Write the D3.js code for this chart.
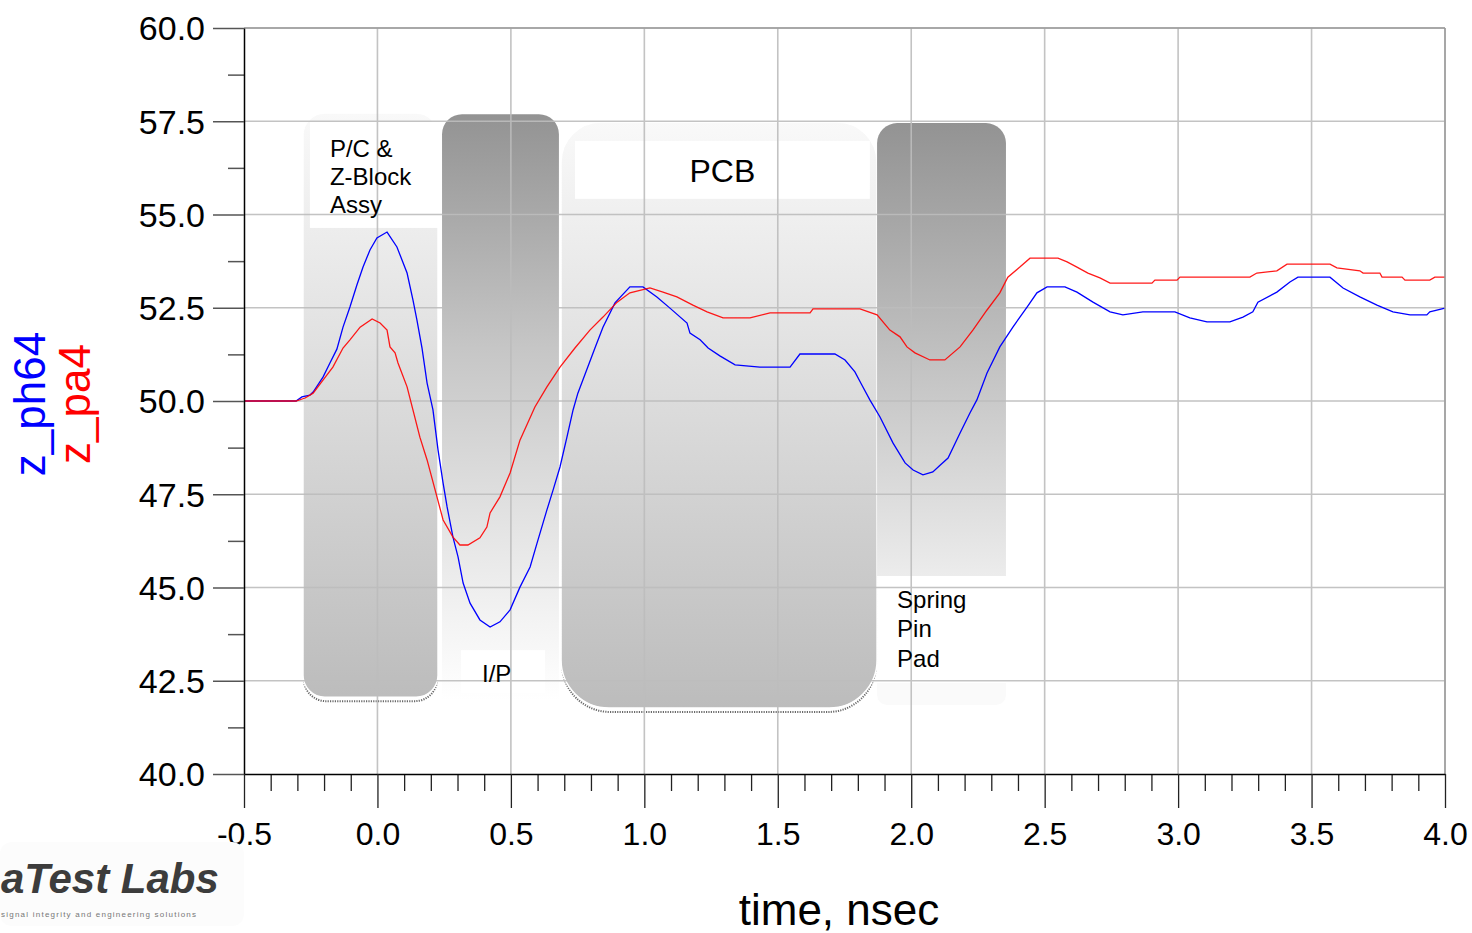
<!DOCTYPE html>
<html>
<head>
<meta charset="utf-8">
<script src="https://cdn.jsdelivr.net/npm/d3@7"></script>
<style>
  body { margin: 0; background: #fff; }
  svg { display: block; font-family: "Liberation Sans", Arial, sans-serif; }
</style>
</head>
<body>
<svg id="chart" width="1472" height="933"></svg>
<script>
'use strict';

// impedance traces, [time ns, ohms]
const zPh64 = [
  [-0.5, 50.00], [-0.305, 50.00], [-0.283, 50.11], [-0.253, 50.16], [-0.241, 50.24],
  [-0.204, 50.64], [-0.178, 51.02], [-0.152, 51.39], [-0.129, 51.98], [-0.103, 52.52],
  [-0.077, 53.11], [-0.054, 53.59], [-0.028, 54.05], [-0.002, 54.37], [0.036, 54.53],
  [0.073, 54.13], [0.111, 53.43], [0.133, 52.71], [0.148, 52.17], [0.167, 51.42],
  [0.186, 50.48], [0.208, 49.76], [0.227, 48.69], [0.246, 47.80], [0.261, 47.16],
  [0.283, 46.35], [0.302, 45.82], [0.321, 45.12], [0.347, 44.58], [0.384, 44.13],
  [0.422, 43.94], [0.459, 44.08], [0.497, 44.40], [0.534, 45.01], [0.572, 45.55],
  [0.598, 46.19], [0.635, 47.08], [0.658, 47.61], [0.684, 48.23], [0.710, 49.03],
  [0.733, 49.76], [0.751, 50.21], [0.815, 51.42], [0.845, 51.98], [0.890, 52.63],
  [0.946, 53.06], [0.995, 53.06], [1.047, 52.79], [1.096, 52.49], [1.160, 52.09],
  [1.171, 51.82], [1.209, 51.64], [1.239, 51.42], [1.283, 51.21], [1.340, 50.97],
  [1.433, 50.91], [1.546, 50.91], [1.583, 51.26], [1.714, 51.26], [1.752, 51.10],
  [1.789, 50.78], [1.815, 50.43], [1.845, 50.03], [1.883, 49.57], [1.932, 48.87],
  [1.977, 48.34], [2.007, 48.15], [2.044, 48.02], [2.081, 48.10], [2.108, 48.28],
  [2.138, 48.47], [2.183, 49.14], [2.220, 49.68], [2.246, 50.03], [2.284, 50.75],
  [2.332, 51.45], [2.381, 51.98], [2.434, 52.52], [2.471, 52.90], [2.509, 53.06],
  [2.576, 53.06], [2.621, 52.92], [2.681, 52.65], [2.745, 52.39], [2.793, 52.31],
  [2.868, 52.39], [2.988, 52.39], [3.044, 52.23], [3.108, 52.12], [3.194, 52.12],
  [3.243, 52.25], [3.280, 52.39], [3.299, 52.65], [3.370, 52.92], [3.419, 53.19],
  [3.449, 53.32], [3.569, 53.32], [3.618, 53.03], [3.681, 52.79], [3.745, 52.57],
  [3.805, 52.39], [3.869, 52.31], [3.932, 52.31], [3.943, 52.39], [4.0, 52.49]
];

const zPa4 = [
  [-0.5, 50.00], [-0.305, 50.00], [-0.271, 50.08], [-0.241, 50.21], [-0.204, 50.56],
  [-0.167, 50.91], [-0.129, 51.42], [-0.103, 51.64], [-0.065, 51.98], [-0.020, 52.20],
  [0.010, 52.09], [0.036, 51.90], [0.047, 51.45], [0.066, 51.29], [0.077, 51.02],
  [0.111, 50.38], [0.133, 49.76], [0.159, 49.03], [0.186, 48.42], [0.223, 47.43],
  [0.246, 46.81], [0.283, 46.35], [0.309, 46.14], [0.339, 46.14], [0.384, 46.33],
  [0.410, 46.62], [0.422, 47.00], [0.459, 47.43], [0.497, 48.07], [0.534, 48.95],
  [0.590, 49.84], [0.635, 50.38], [0.684, 50.91], [0.740, 51.42], [0.796, 51.90],
  [0.845, 52.25], [0.898, 52.65], [0.946, 52.90], [1.021, 53.03], [1.070, 52.92],
  [1.122, 52.79], [1.182, 52.57], [1.235, 52.39], [1.295, 52.23], [1.396, 52.23],
  [1.471, 52.36], [1.621, 52.36], [1.632, 52.47], [1.808, 52.47], [1.872, 52.31],
  [1.920, 51.90], [1.958, 51.72], [1.984, 51.45], [2.014, 51.29], [2.070, 51.10],
  [2.126, 51.10], [2.183, 51.45], [2.231, 51.90], [2.284, 52.44], [2.332, 52.90],
  [2.362, 53.32], [2.407, 53.59], [2.445, 53.83], [2.550, 53.83], [2.584, 53.73],
  [2.621, 53.59], [2.662, 53.43], [2.707, 53.30], [2.745, 53.16], [2.902, 53.16],
  [2.913, 53.24], [2.996, 53.24], [3.007, 53.32], [3.269, 53.32], [3.295, 53.43],
  [3.370, 53.49], [3.408, 53.67], [3.569, 53.67], [3.595, 53.57], [3.681, 53.49],
  [3.693, 53.43], [3.756, 53.43], [3.764, 53.32], [3.839, 53.32], [3.850, 53.24],
  [3.943, 53.24], [3.962, 53.32], [4.0, 53.32]
];

const xTicks = [-0.5, 0.0, 0.5, 1.0, 1.5, 2.0, 2.5, 3.0, 3.5, 4.0];
const yTicks = [40.0, 42.5, 45.0, 47.5, 50.0, 52.5, 55.0, 57.5, 60.0];

// structure regions: time span (ns) and ohm span
const zones = [
  { id: 'pc', t0: -0.279, t1: 0.227, lo: 42.06, hi: 57.72 },
  { id: 'ip', t0: 0.242, t1: 0.680, lo: 41.98, hi: 57.69 },
  { id: 'pcb', t0: 0.688, t1: 1.872, lo: 41.77, hi: 57.48 },
  { id: 'spring', t0: 1.872, t1: 2.355, lo: 45.31, hi: 57.45 }
];
// white label boxes behind region names
const labelBoxes = [
  { id: 'pc', t0: -0.253, t1: 0.227, lo: 54.64, hi: 57.48 },
  { id: 'ip', t0: 0.313, t1: 0.628, lo: 42.17, hi: 43.32 },
  { id: 'pcb', t0: 0.740, t1: 1.845, lo: 55.42, hi: 56.97 }
];
const zoneLabels = {
  pc: ['P/C &', 'Z-Block', 'Assy'],
  ip: ['I/P'],
  pcb: ['PCB'],
  spring: ['Spring', 'Pin', 'Pad']
};

const svg = d3.select('#chart');
const x = d3.scaleLinear().domain([-0.5, 4.0]).range([244, 1445]);
const y = d3.scaleLinear().domain([40, 60]).range([774, 28]);
// plain hyphen for negatives, like the original plot
const fmt = function(v) { return d3.format('.1f')(v).replace('\u2212', '-'); };

// rounded rect with separate top / bottom radius
function boxPath(x0, y0, x1, y1, rt, rb) {
  return 'M' + x0 + ',' + (y0 + rt) +
    'A' + rt + ',' + rt + ' 0 0 1 ' + (x0 + rt) + ',' + y0 +
    'L' + (x1 - rt) + ',' + y0 +
    'A' + rt + ',' + rt + ' 0 0 1 ' + x1 + ',' + (y0 + rt) +
    'L' + x1 + ',' + (y1 - rb) +
    'A' + rb + ',' + rb + ' 0 0 1 ' + (x1 - rb) + ',' + y1 +
    'L' + (x0 + rb) + ',' + y1 +
    'A' + rb + ',' + rb + ' 0 0 1 ' + x0 + ',' + (y1 - rb) + 'Z';
}

const defs = svg.append('defs');
function grad(id, stops) {
  const g = defs.append('linearGradient').attr('id', id)
    .attr('x1', 0).attr('y1', 0).attr('x2', 0).attr('y2', 1);
  stops.forEach(function(s) {
    g.append('stop').attr('offset', s[0]).attr('stop-color', s[1]);
  });
}
grad('g-light', [[0, '#f9f9f9'], [1, '#bcbcbc']]);
grad('g-ip', [[0, '#939393'], [0.4, '#c6c6c6'], [0.85, '#f2f2f2'], [1, '#ffffff']]);
grad('g-spring', [[0, '#939393'], [1, '#ececec']]);

const zoneStyle = {
  pc: { fill: 'url(#g-light)', rt: 22, rb: 22, shadow: true },
  ip: { fill: 'url(#g-ip)', rt: 20, rb: 0, shadow: false },
  pcb: { fill: 'url(#g-light)', rt: 40, rb: 48, shadow: true },
  spring: { fill: 'url(#g-spring)', rt: 20, rb: 0, shadow: false }
};

const gZones = svg.append('g').attr('id', 'zones');

// faint footer under the spring pin region
gZones.append('path')
  .attr('d', boxPath(x(1.872), y(42.44), x(2.355), y(41.85), 0, 10))
  .attr('fill', '#fafafa');

zones.forEach(function(z) {
  const st = zoneStyle[z.id];
  const x0 = x(z.t0), x1 = x(z.t1), y0 = y(z.hi), y1 = y(z.lo);
  if (st.shadow) {
    gZones.append('path')
      .attr('d', boxPath(x0 + 1, y0 + 4, x1 - 1, y1 + 4, st.rt, st.rb))
      .attr('fill', 'none')
      .attr('stroke', '#6a6a6a')
      .attr('stroke-width', 2)
      .attr('stroke-dasharray', '1.2 1.2');
  }
  gZones.append('path')
    .attr('d', boxPath(x0, y0, x1, y1, st.rt, st.rb))
    .attr('fill', st.fill)
    .attr('stroke', st.shadow ? '#ffffff' : 'none')
    .attr('stroke-width', 1.5);
});

gZones.selectAll('rect.label-box')
  .data(labelBoxes)
  .enter()
  .append('rect')
  .attr('class', 'label-box')
  .attr('x', function(d) { return x(d.t0); })
  .attr('y', function(d) { return y(d.hi); })
  .attr('width', function(d) { return x(d.t1) - x(d.t0); })
  .attr('height', function(d) { return y(d.lo) - y(d.hi); })
  .attr('fill', '#ffffff');

// grid
const gGrid = svg.append('g').attr('id', 'grid')
  .attr('stroke', '#bdbdbd').attr('stroke-width', 1.6).attr('opacity', 0.9);
gGrid.selectAll('line.vx')
  .data(xTicks.slice(1))
  .enter()
  .append('line')
  .attr('x1', function(d) { return x(d); })
  .attr('x2', function(d) { return x(d); })
  .attr('y1', y(60)).attr('y2', y(40));
gGrid.selectAll('line.hy')
  .data(yTicks.slice(1))
  .enter()
  .append('line')
  .attr('x1', x(-0.5)).attr('x2', x(4.0))
  .attr('y1', function(d) { return y(d); })
  .attr('y2', function(d) { return y(d); });

// zone labels
const gText = svg.append('g').attr('font-size', 24).attr('fill', '#000');
const pcBox = labelBoxes[0];
zoneLabels.pc.forEach(function(s, i) {
  gText.append('text').attr('x', x(pcBox.t0) + 20).attr('y', y(pcBox.hi) + 35 + i * 28).text(s);
});
const ipBox = labelBoxes[1];
gText.append('text').attr('x', x(ipBox.t0) + 21).attr('y', y(ipBox.hi) + 32).text(zoneLabels.ip[0]);
const pcbBox = labelBoxes[2];
gText.append('text')
  .attr('x', (x(pcbBox.t0) + x(pcbBox.t1)) / 2)
  .attr('y', y(pcbBox.hi) + 41)
  .attr('text-anchor', 'middle')
  .attr('font-size', 32)
  .text(zoneLabels.pcb[0]);
const spring = zones[3];
zoneLabels.spring.forEach(function(s, i) {
  gText.append('text').attr('x', x(spring.t0) + 20).attr('y', y(spring.lo) + 32 + i * 29.5).text(s);
});

// traces
const line = d3.line()
  .x(function(d) { return x(d[0]); })
  .y(function(d) { return y(d[1]); });
svg.append('path').datum(zPh64)
  .attr('d', line).attr('fill', 'none')
  .attr('stroke', '#0000ff').attr('stroke-width', 1.3);
svg.append('path').datum(zPa4)
  .attr('d', line).attr('fill', 'none')
  .attr('stroke', '#ff0000').attr('stroke-width', 1.3).attr('opacity', 0.9);

// frame top/right
svg.append('line').attr('x1', x(-0.5)).attr('x2', x(4.0)).attr('y1', y(60)).attr('y2', y(60))
  .attr('stroke', '#9a9a9a').attr('stroke-width', 1.5);
svg.append('line').attr('x1', x(4.0)).attr('x2', x(4.0)).attr('y1', y(60)).attr('y2', y(40))
  .attr('stroke', '#9a9a9a').attr('stroke-width', 1.5);

// y axis
const minorY = d3.range(41.25, 60, 2.5);
svg.append('g')
  .attr('transform', 'translate(' + x(-0.5) + ',0)')
  .call(d3.axisLeft(y).tickValues(minorY).tickSize(16).tickFormat('').tickSizeOuter(0))
  .call(function(g) { g.select('.domain').remove(); })
  .selectAll('line').attr('stroke', '#555').attr('stroke-width', 1.5);
const yAxis = svg.append('g')
  .attr('transform', 'translate(' + x(-0.5) + ',0)')
  .call(d3.axisLeft(y).tickValues(yTicks).tickSize(31).tickSizeOuter(0)
    .tickPadding(8).tickFormat(fmt));
yAxis.select('.domain').attr('stroke', '#000').attr('stroke-width', 1.5);
yAxis.selectAll('.tick line').attr('stroke', '#555').attr('stroke-width', 1.5);
yAxis.selectAll('text')
  .attr('font-size', 34).attr('font-family', '"Liberation Sans", Arial, sans-serif')
  .attr('fill', '#000').attr('dy', '0.35em');

// x axis
const minorX = d3.range(-0.4, 4.0, 0.1).filter(function(v) {
  return Math.abs(v * 2 - Math.round(v * 2)) > 1e-6;
});
svg.append('g')
  .attr('transform', 'translate(0,' + y(40) + ')')
  .call(d3.axisBottom(x).tickValues(minorX).tickSize(17).tickFormat('').tickSizeOuter(0))
  .call(function(g) { g.select('.domain').remove(); })
  .selectAll('line').attr('stroke', '#222').attr('stroke-width', 1.3);
const xAxis = svg.append('g')
  .attr('transform', 'translate(0,' + y(40) + ')')
  .call(d3.axisBottom(x).tickValues(xTicks).tickSize(34).tickSizeOuter(0)
    .tickFormat(fmt));
xAxis.select('.domain').attr('stroke', '#000').attr('stroke-width', 1.5);
xAxis.selectAll('.tick line').attr('stroke', '#222').attr('stroke-width', 1.3);
xAxis.selectAll('text')
  .attr('font-size', 32).attr('font-family', '"Liberation Sans", Arial, sans-serif')
  .attr('fill', '#000').attr('y', 71).attr('dy', 0);

// titles
svg.append('text')
  .attr('x', 839).attr('y', 925)
  .attr('text-anchor', 'middle').attr('font-size', 44)
  .text('time, nsec');
svg.append('text')
  .attr('transform', 'translate(45,404) rotate(-90)')
  .attr('text-anchor', 'middle').attr('font-size', 44).attr('fill', '#0000ff')
  .text('z_ph64');
svg.append('text')
  .attr('transform', 'translate(90,404) rotate(-90)')
  .attr('text-anchor', 'middle').attr('font-size', 44).attr('fill', '#ff0000')
  .text('z_pa4');

// logo, bottom left
const logo = svg.append('g').attr('id', 'logo');
logo.append('rect').attr('x', 0).attr('y', 842).attr('width', 244).attr('height', 84)
  .attr('rx', 12).attr('fill', '#fcfcfc');
logo.append('text')
  .attr('x', 1).attr('y', 893)
  .attr('font-size', 42).attr('font-weight', 'bold').attr('font-style', 'italic')
  .attr('fill', '#3c3c3c')
  .text('aTest Labs');
logo.append('text')
  .attr('x', 1).attr('y', 917)
  .attr('font-size', 8).attr('fill', '#777')
  .attr('textLength', 195)
  .text('signal integrity and engineering solutions');
</script>
</body>
</html>
